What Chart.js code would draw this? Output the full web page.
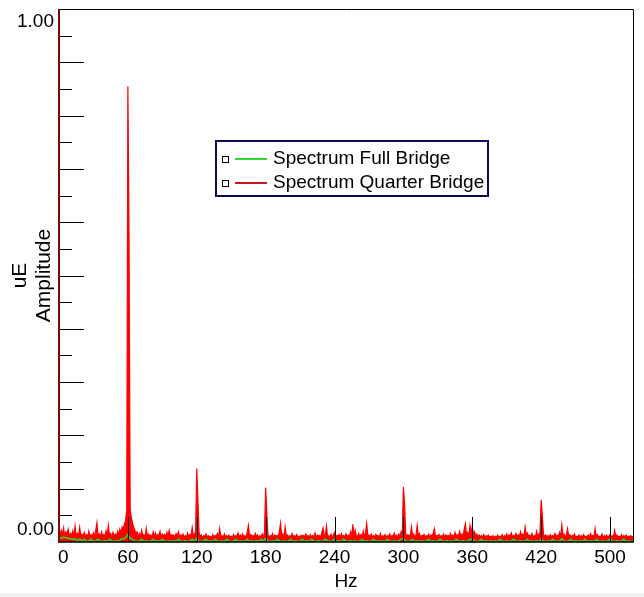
<!DOCTYPE html>
<html>
<head>
<meta charset="utf-8">
<script src="https://cdn.jsdelivr.net/npm/chart.js@4/dist/chart.umd.min.js"></script>
<style>
  html, body { margin: 0; padding: 0; background: #f0f0f0; }
  #wrap { width: 644px; height: 593px; background: #ffffff; }
  canvas { display: block; }
</style>
</head>
<body>
<div id="wrap"><canvas id="c" width="644" height="593"></canvas></div>
<script>
// ---- data ----
const seriesNames = ['Spectrum Full Bridge', 'Spectrum Quarter Bridge'];
const xTickValues = [0, 60, 120, 180, 240, 300, 360, 420, 480];
const xTickLabels = ['0', '60', '120', '180', '240', '300', '360', '420', '500'];
const yTickLabels = ['0.00', '1.00'];
const xTitle = 'Hz';
const yTitleLines = ['uE', 'Amplitude'];

// Quarter bridge amplitude, one bin per Hz, 0..500 Hz
const quarterStepHz = 1;
const quarterBridge = [
 0.028,0.012,0.022,0.014,0.026,0.010,0.019,0.015,0.024,0.011,
 0.016,0.012,0.021,0.009,0.030,0.012,0.016,0.010,0.027,0.011,
 0.015,0.008,0.018,0.012,0.014,0.009,0.020,0.010,0.014,0.011,
 0.017,0.010,0.022,0.036,0.011,0.015,0.009,0.019,0.012,0.014,
 0.010,0.021,0.010,0.031,0.012,0.016,0.009,0.018,0.011,0.015,
 0.010,0.020,0.013,0.024,0.017,0.028,0.024,0.034,0.040,0.060,
 0.855,0.575,0.062,0.046,0.036,0.028,0.022,0.016,0.019,0.011,
 0.016,0.009,0.022,0.012,0.014,0.008,0.025,0.010,0.015,0.011,
 0.013,0.008,0.019,0.011,0.017,0.009,0.014,0.012,0.020,0.008,
 0.015,0.011,0.014,0.009,0.018,0.010,0.022,0.010,0.014,0.012,
 0.013,0.008,0.016,0.011,0.019,0.009,0.013,0.011,0.015,0.009,
 0.012,0.008,0.017,0.010,0.014,0.012,0.027,0.010,0.015,0.020,
 0.138,0.079,0.018,0.010,0.013,0.008,0.012,0.010,0.015,0.009,
 0.012,0.010,0.011,0.008,0.014,0.009,0.012,0.011,0.016,0.009,
 0.025,0.010,0.012,0.008,0.015,0.010,0.012,0.009,0.013,0.009,
 0.011,0.008,0.014,0.010,0.012,0.011,0.017,0.009,0.013,0.009,
 0.015,0.010,0.012,0.008,0.019,0.031,0.010,0.014,0.011,0.012,
 0.009,0.016,0.010,0.013,0.008,0.012,0.010,0.015,0.009,0.018,
 0.102,0.055,0.014,0.009,0.012,0.010,0.016,0.008,0.013,0.011,
 0.012,0.010,0.020,0.035,0.010,0.015,0.009,0.028,0.011,0.013,
 0.009,0.012,0.008,0.016,0.010,0.012,0.009,0.014,0.010,0.011,
 0.008,0.013,0.011,0.012,0.009,0.015,0.010,0.012,0.010,0.014,
 0.009,0.012,0.010,0.017,0.008,0.013,0.011,0.012,0.009,0.018,
 0.026,0.010,0.014,0.030,0.009,0.012,0.010,0.015,0.008,0.013,
 0.018,0.009,0.012,0.011,0.014,0.008,0.016,0.010,0.012,0.009,
 0.015,0.010,0.013,0.009,0.019,0.012,0.033,0.010,0.022,0.012,
 0.009,0.016,0.011,0.014,0.009,0.020,0.010,0.017,0.035,0.012,
 0.013,0.008,0.015,0.010,0.012,0.009,0.014,0.011,0.012,0.009,
 0.016,0.008,0.012,0.010,0.014,0.009,0.012,0.010,0.015,0.009,
 0.012,0.011,0.017,0.009,0.013,0.010,0.015,0.010,0.019,0.012,
 0.103,0.072,0.016,0.010,0.014,0.011,0.012,0.028,0.010,0.015,
 0.009,0.013,0.031,0.010,0.016,0.009,0.012,0.011,0.014,0.009,
 0.012,0.010,0.015,0.008,0.013,0.010,0.017,0.025,0.009,0.012,
 0.011,0.014,0.009,0.012,0.010,0.015,0.008,0.013,0.011,0.012,
 0.009,0.016,0.010,0.013,0.009,0.018,0.011,0.014,0.010,0.020,
 0.012,0.015,0.010,0.024,0.034,0.013,0.018,0.011,0.031,0.016,
 0.030,0.014,0.019,0.010,0.015,0.011,0.013,0.009,0.012,0.010,
 0.014,0.008,0.012,0.010,0.013,0.009,0.011,0.010,0.012,0.008,
 0.011,0.009,0.013,0.009,0.011,0.010,0.014,0.008,0.012,0.010,
 0.015,0.009,0.013,0.011,0.017,0.010,0.012,0.011,0.016,0.010,
 0.014,0.009,0.019,0.011,0.015,0.010,0.028,0.012,0.017,0.010,
 0.013,0.009,0.016,0.010,0.012,0.009,0.020,0.011,0.015,0.018,
 0.079,0.050,0.015,0.010,0.013,0.010,0.012,0.009,0.014,0.010,
 0.012,0.011,0.016,0.010,0.013,0.011,0.018,0.010,0.032,0.012,
 0.015,0.010,0.013,0.025,0.010,0.014,0.009,0.012,0.011,0.015,
 0.009,0.011,0.010,0.013,0.008,0.012,0.010,0.014,0.009,0.011,
 0.010,0.013,0.009,0.016,0.011,0.012,0.009,0.025,0.010,0.014,
 0.009,0.011,0.010,0.015,0.008,0.012,0.010,0.013,0.009,0.011,
 0.014,0.009,0.012,0.010,0.022,0.010,0.013,0.009,0.011,0.010,
 0.014,0.009,0.012,0.010,0.013,0.009,0.011,0.010,0.012,0.009,
 0.011
];

// Full bridge amplitude, one bin per 2 Hz, 0..500 Hz
const fullStepHz = 2;
const fullBridge = [
 0.005,0.008,0.009,0.008,0.007,0.006,0.005,0.006,0.002,0.005,
 0.002,0.005,0.001,0.002,0.005,0.001,0.002,0.005,0.002,0.001,
 0.002,0.001,0.005,0.002,0.001,0.002,0.001,0.005,0.006,0.008,
 0.014,0.007,0.005,0.002,0.001,0.002,0.005,0.001,0.002,0.001,
 0.002,0.005,0.001,0.002,0.001,0.005,0.002,0.001,0.002,0.001,
 0.002,0.001,0.005,0.002,0.001,0.002,0.001,0.002,0.005,0.002,
 0.006,0.002,0.001,0.002,0.005,0.001,0.002,0.001,0.005,0.002,
 0.001,0.002,0.001,0.005,0.002,0.001,0.002,0.005,0.001,0.002,
 0.001,0.002,0.005,0.001,0.002,0.001,0.002,0.001,0.005,0.002,
 0.006,0.002,0.001,0.002,0.001,0.005,0.002,0.001,0.002,0.001,
 0.002,0.005,0.001,0.002,0.001,0.002,0.005,0.001,0.002,0.001,
 0.005,0.002,0.001,0.002,0.001,0.002,0.005,0.002,0.001,0.002,
 0.005,0.001,0.002,0.001,0.005,0.002,0.001,0.002,0.001,0.002,
 0.001,0.002,0.005,0.001,0.002,0.001,0.002,0.005,0.001,0.002,
 0.001,0.002,0.001,0.005,0.002,0.001,0.002,0.001,0.002,0.005,
 0.006,0.002,0.001,0.002,0.005,0.001,0.002,0.001,0.002,0.001,
 0.002,0.005,0.001,0.002,0.001,0.002,0.005,0.002,0.001,0.002,
 0.001,0.002,0.001,0.005,0.002,0.001,0.002,0.001,0.002,0.005,
 0.005,0.002,0.001,0.002,0.005,0.001,0.002,0.001,0.002,0.001,
 0.002,0.001,0.005,0.002,0.001,0.002,0.001,0.002,0.005,0.002,
 0.001,0.002,0.001,0.002,0.005,0.001,0.002,0.001,0.002,0.001,
 0.005,0.002,0.001,0.002,0.001,0.005,0.002,0.001,0.002,0.006,
 0.002,0.001,0.002,0.005,0.001,0.002,0.001,0.002,0.001,0.005,
 0.002,0.001,0.002,0.001,0.005,0.002,0.001,0.002,0.001,0.002,
 0.005,0.002,0.001,0.002,0.001,0.002,0.005,0.001,0.002,0.001,
 0.002
];

const toPoints = (vals, step) => vals.map((v, i) => ({ x: i * step, y: v }));

const FONT = '"Liberation Sans", Arial, sans-serif';

const decor = {
  id: 'decor',
  afterDatasetsDraw(chart) {
    const ctx = chart.ctx;
    const xs = chart.scales.x, ys = chart.scales.y;
    const a = chart.chartArea;
    const x0 = xs.getPixelForValue(0), y0 = ys.getPixelForValue(0), y1 = ys.getPixelForValue(1);
    const xr = a.right;
    ctx.save();
    // frame: top and right
    ctx.strokeStyle = '#000000';
    ctx.lineWidth = 1;
    ctx.beginPath();
    ctx.moveTo(x0, Math.round(y1) + 0.5); ctx.lineTo(xr + 0.5, Math.round(y1) + 0.5);
    ctx.lineTo(xr + 0.5, y0);
    ctx.stroke();
    // y ticks (inside)
    for (let k = 1; k < 20; k++) {
      const v = k * 0.05;
      const yp = Math.round(ys.getPixelForValue(v)) + 0.5;
      const len = (k % 2 === 0) ? 25 : 13;
      ctx.beginPath(); ctx.moveTo(x0, yp); ctx.lineTo(x0 + len, yp); ctx.stroke();
    }
    // x ticks (inside)
    xTickValues.forEach(v => {
      if (v === 0) return;
      const xp = Math.round(xs.getPixelForValue(v)) + 0.5;
      ctx.beginPath(); ctx.moveTo(xp, y0); ctx.lineTo(xp, y0 - 25); ctx.stroke();
    });
    // x axis line
    ctx.lineWidth = 1.6;
    ctx.beginPath(); ctx.moveTo(x0, y0); ctx.lineTo(xr + 1, y0); ctx.stroke();
    // y axis line (maroon)
    ctx.strokeStyle = '#7a0a0a';
    ctx.lineWidth = 2;
    ctx.beginPath(); ctx.moveTo(x0, y1); ctx.lineTo(x0, y0 + 1); ctx.stroke();

    // tick labels
    ctx.fillStyle = '#000000';
    ctx.font = '19px ' + FONT;
    ctx.textAlign = 'right'; ctx.textBaseline = 'middle';
    ctx.fillText(yTickLabels[1], x0 - 5, y1 + 13);
    ctx.fillText(yTickLabels[0], x0 - 5, y0 - 12);
    xTickValues.forEach((v, i) => {
      const xp = xs.getPixelForValue(v);
      if (v === 0) { ctx.textAlign = 'left'; ctx.fillText(xTickLabels[i], xp - 1, y0 + 16); }
      else { ctx.textAlign = 'center'; ctx.fillText(xTickLabels[i], xp, y0 + 16); }
    });
    // axis titles
    ctx.textAlign = 'center';
    ctx.fillText(xTitle, (x0 + xr) / 2, y0 + 40);
    ctx.font = '21px ' + FONT;
    const ym = (y0 + y1) / 2;
    ctx.save();
    ctx.translate(20, ym);
    ctx.rotate(-Math.PI / 2);
    ctx.fillText(yTitleLines[0], 0, 0);
    ctx.restore();
    ctx.save();
    ctx.translate(44, ym);
    ctx.rotate(-Math.PI / 2);
    ctx.fillText(yTitleLines[1], 0, 0);
    ctx.restore();

    // legend box
    const lx = 216, ly = 141, lw = 272, lh = 55;
    ctx.fillStyle = '#ffffff';
    ctx.fillRect(lx, ly, lw, lh);
    ctx.strokeStyle = '#0b0b55';
    ctx.lineWidth = 2;
    ctx.strokeRect(lx, ly, lw, lh);
    const legendColors = ['#2fd82f', '#c8161c'];
    const rows = [159, 183];
    ctx.font = '19px ' + FONT;
    ctx.textAlign = 'left'; ctx.textBaseline = 'middle';
    chart.data.datasets.forEach((ds, i) => {
      const yy = rows[i];
      ctx.strokeStyle = '#000000'; ctx.lineWidth = 1;
      ctx.strokeRect(222.5, yy - 2.5, 6, 6);
      ctx.strokeStyle = legendColors[i]; ctx.lineWidth = 2;
      ctx.beginPath(); ctx.moveTo(235, yy); ctx.lineTo(267, yy); ctx.stroke();
      ctx.fillStyle = '#000000';
      ctx.fillText(ds.label, 273, yy);
    });
    ctx.restore();
  }
};

new Chart(document.getElementById('c'), {
  type: 'line',
  data: {
    datasets: [
      { label: seriesNames[0], data: toPoints(fullBridge, fullStepHz), borderColor: '#22dd22',
        borderWidth: 1.6, pointRadius: 0, fill: false, order: 1 },
      { label: seriesNames[1], data: toPoints(quarterBridge, quarterStepHz), borderColor: '#ff0000',
        backgroundColor: '#ff0000', borderWidth: 1.2, pointRadius: 0, fill: 'origin', order: 2 }
    ]
  },
  options: {
    responsive: false,
    animation: false,
    devicePixelRatio: 1,
    layout: { padding: { left: 59, right: 11, top: 9, bottom: 51 } },
    plugins: { legend: { display: false }, tooltip: { enabled: false } },
    elements: { line: { tension: 0 } },
    scales: {
      x: { type: 'linear', min: 0, max: 500, display: false },
      y: { type: 'linear', min: 0, max: 1, display: false }
    }
  },
  plugins: [decor]
});
</script>
</body>
</html>
